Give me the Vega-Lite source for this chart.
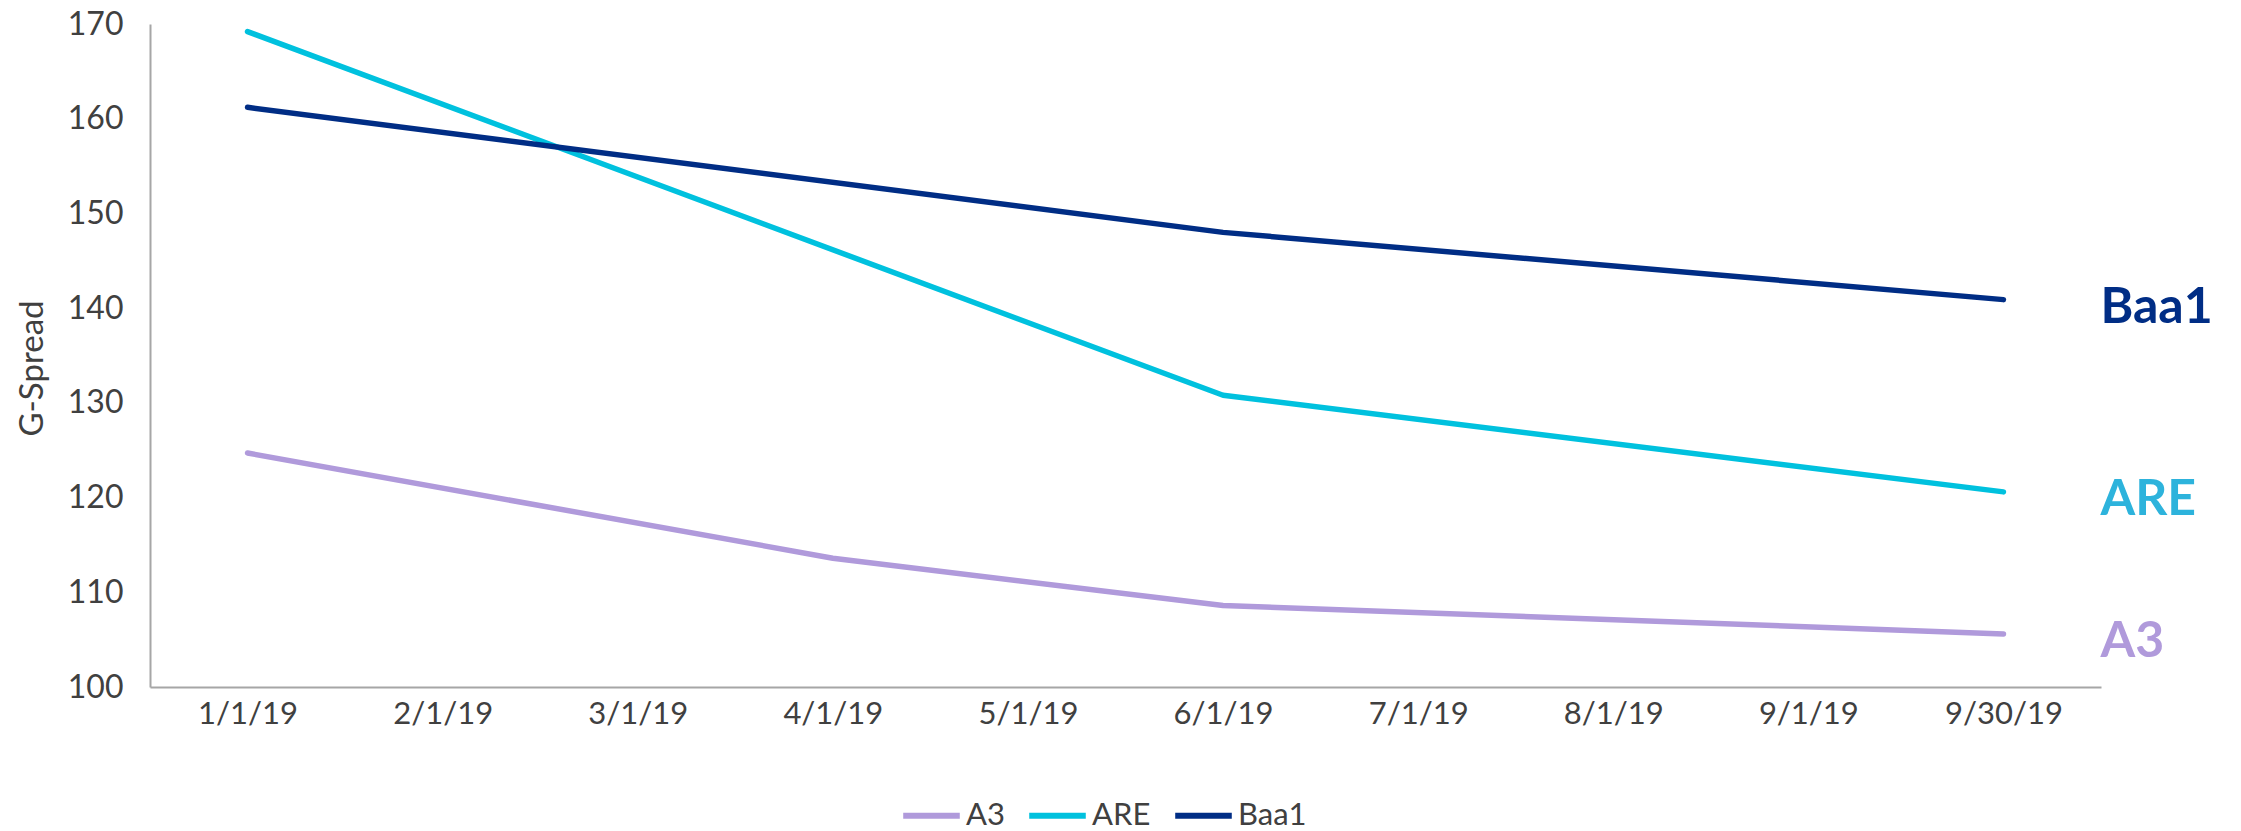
{
  "$schema": "https://vega.github.io/schema/vega-lite/v6.json",
  "width": 1951,
  "height": 663,
  "autosize": {"type": "none"},
  "padding": {"left": 150, "top": 24, "right": 140, "bottom": 144},
  "background": "white",
  "config": {
    "view": {"stroke": null},
    "font": "Lato",
    "axis": {"labelFont": "Lato", "titleFont": "Lato", "labelColor": "#404040", "titleColor": "#404040"}
  },
  "data": {
    "values": [
      {"date": "1/1/19", "series": "A3", "spread": 124.7},
      {"date": "4/1/19", "series": "A3", "spread": 113.6},
      {"date": "6/1/19", "series": "A3", "spread": 108.6},
      {"date": "9/30/19", "series": "A3", "spread": 105.6},
      {"date": "1/1/19", "series": "ARE", "spread": 169.2},
      {"date": "6/1/19", "series": "ARE", "spread": 130.8},
      {"date": "9/30/19", "series": "ARE", "spread": 120.6},
      {"date": "1/1/19", "series": "Baa1", "spread": 161.2},
      {"date": "6/1/19", "series": "Baa1", "spread": 148.0},
      {"date": "9/30/19", "series": "Baa1", "spread": 140.9}
    ]
  },
  "encoding": {
    "x": {
      "field": "date",
      "type": "ordinal",
      "sort": null,
      "scale": {
        "type": "point",
        "padding": 0.5,
        "domain": ["1/1/19", "2/1/19", "3/1/19", "4/1/19", "5/1/19", "6/1/19", "7/1/19", "8/1/19", "9/1/19", "9/30/19"]
      },
      "axis": {
        "title": null,
        "labelAngle": 0,
        "labelFontSize": 31,
        "labelPadding": 12,
        "ticks": false,
        "domainColor": "#a6a6a6",
        "domainWidth": 2,
        "grid": false
      }
    },
    "y": {
      "field": "spread",
      "type": "quantitative",
      "scale": {"domain": [100, 170], "nice": false, "zero": false},
      "axis": {
        "title": "G-Spread",
        "titleFontSize": 33,
        "titleFontWeight": "normal",
        "titleX": -118,
        "titleY": 344,
        "titleAngle": -90,
        "titleAlign": "center",
        "titleBaseline": "middle",
        "values": [100, 110, 120, 130, 140, 150, 160, 170],
        "labelFontSize": 32,
        "labelPadding": 27,
        "ticks": false,
        "grid": false,
        "domainColor": "#a6a6a6",
        "domainWidth": 2
      }
    }
  },
  "layer": [
    {
      "mark": {"type": "line", "strokeWidth": 5.5, "strokeCap": "round", "strokeJoin": "round"},
      "encoding": {
        "color": {
          "field": "series",
          "type": "nominal",
          "scale": {"domain": ["A3", "ARE", "Baa1"], "range": ["#B09ADB", "#00C1DE", "#002D85"]},
          "legend": {
            "title": null,
            "orient": "none",
            "direction": "horizontal",
            "legendX": 750,
            "legendY": 760,
            "symbolType": "stroke",
            "symbolSize": 3200,
            "symbolStrokeWidth": 6,
            "labelFontSize": 31,
            "labelColor": "#404040",
            "labelOffset": 3,
            "columnPadding": 12,
            "symbolOffset": 0
          }
        }
      }
    },
    {
      "transform": [{"filter": "datum.date === '9/30/19'"}],
      "mark": {"type": "text", "align": "left", "baseline": "middle", "dx": 97, "dy": 8, "fontSize": 50, "fontWeight": "bold"},
      "encoding": {
        "text": {"field": "series"},
        "color": {
          "field": "series",
          "type": "nominal",
          "scale": {"domain": ["A3", "ARE", "Baa1"], "range": ["#B09ADB", "#2DB3DC", "#002D85"]},
          "legend": null
        }
      }
    }
  ],
  "resolve": {"scale": {"color": "independent"}}
}
